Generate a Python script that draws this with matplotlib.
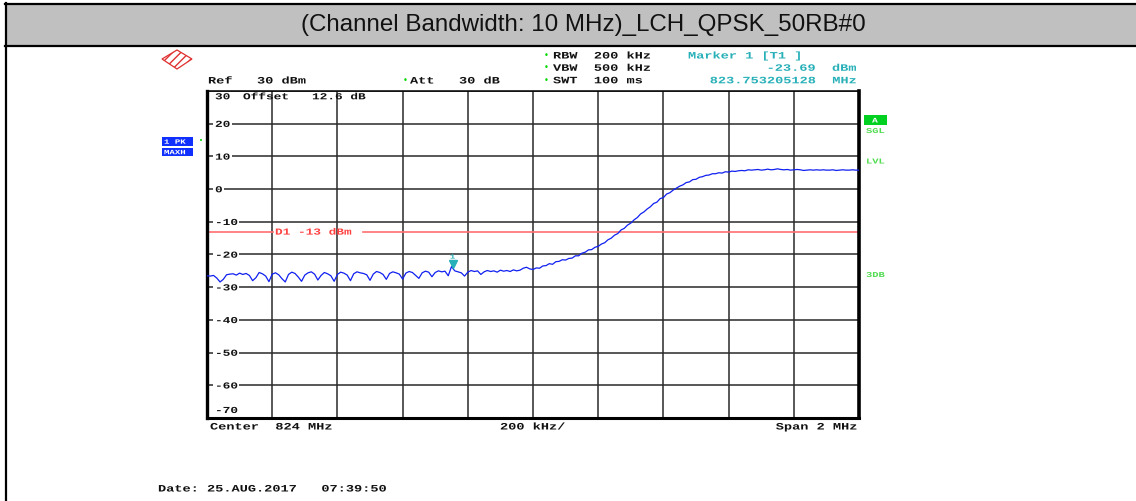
import matplotlib
matplotlib.use("Agg")
import matplotlib.pyplot as plt
import numpy as np
from matplotlib.patches import Rectangle, Polygon
from matplotlib.lines import Line2D
from matplotlib.patheffects import AbstractPathEffect
from matplotlib.transforms import Affine2D, blended_transform_factory, offset_copy

# ---------------- data ----------------
title = "(Channel Bandwidth: 10 MHz)_LCH_QPSK_50RB#0"
center_mhz = 824.0
span_mhz = 2.0
step_mhz = 0.01

trace_dbm = [
    # 823.00 .. 823.99 MHz
    -26.5, -26.6, -26.4, -27.2, -28.4, -27.6, -26.2, -26.0, -25.9, -26.3,
    -25.7, -26.1, -25.8, -26.4, -28.0, -27.1, -25.5, -25.9, -26.6, -28.3,
    -26.0, -25.6, -26.2, -27.4, -28.4, -26.1, -25.4, -25.8, -26.9, -28.2,
    -26.3, -25.6, -25.3, -26.0, -27.8, -26.4, -25.5, -25.9, -26.5, -28.2,
    -26.1, -25.4, -25.7, -26.3, -28.0, -25.9, -25.3, -25.6, -25.8, -26.2,
    -27.9, -26.0, -25.2, -25.5, -26.1, -27.6, -25.8, -25.3, -25.6, -26.0,
    -27.5, -25.7, -25.2, -25.5, -26.4, -27.3, -25.6, -25.1, -25.4, -26.8,
    -25.5, -25.0, -25.3, -25.1, -26.5, -23.7, -25.0, -25.3, -25.6, -26.6,
    -25.4, -24.9, -25.2, -25.0, -26.1, -25.3, -24.9, -25.2, -25.0, -25.4,
    -24.8, -25.1, -24.9, -25.2, -24.7, -25.0, -24.8, -24.2, -23.9, -24.4,
    # 824.00 .. 824.65 MHz
    -24.6, -24.1, -24.2, -23.5, -23.4, -22.8, -23.0, -22.2, -22.1, -21.6,
    -21.7, -21.2, -21.1, -20.4, -20.4, -19.6, -19.3, -18.6, -18.5, -17.8,
    -17.5, -16.8, -16.4, -15.5, -15.0, -14.1, -13.6, -12.5, -12.0, -11.0,
    -10.4, -9.4, -8.7, -7.6, -7.0, -6.1, -5.4, -4.4, -4.0, -2.9,
    -2.6, -1.5, -1.1, -0.3, 0.3, 0.9, 1.3, 2.0, 2.2, 2.9,
    3.0, 3.6, 3.8, 4.2, 4.3, 4.7, 4.7, 5.0, 4.9, 5.3,
    5.2, 5.5, 5.4, 5.6, 5.7, 5.6,
    # 824.66 .. 825.00 MHz
    5.9, 5.8, 5.9, 6.0, 5.8, 5.9, 6.1, 5.9, 6.0, 6.2,
    6.0, 5.9, 6.0, 5.8, 5.9, 6.0, 5.9, 5.7, 5.8, 5.9,
    5.8, 5.9, 5.8, 5.9, 5.8, 5.8, 5.9, 5.7, 5.8, 5.9,
    5.8, 5.8, 5.9, 5.8, 5.8,
]

limit_dbm = -13.0
marker_mhz = 823.753205128
marker_dbm = -23.69

ref_level = 30
y_ticks = [20, 10, 0, -10, -20, -30, -40, -50, -60]
y_bottom_label = -70

# ---------------- figure ----------------
W, H = 1136, 501
fig = plt.figure(figsize=(W / 100, H / 100), dpi=100)
fig.patch.set_facecolor("white")


def fx(x):
    return x / W


def fy(y):
    return 1 - y / H


class Squash(AbstractPathEffect):
    """Draw glyphs vertically compressed about the baseline (wide screen font)."""

    def __init__(self, sy=0.72):
        super().__init__()
        self._sy = sy

    def draw_path(self, renderer, gc, tpath, affine, rgbFace=None):
        renderer.draw_path(gc, tpath, Affine2D().scale(1.0, self._sy) + affine,
                           rgbFace)


MONO = "Liberation Mono"
FS = 9.8
SQ = [Squash(0.72)]
green = "#00D800"
teal = "#28B0B8"
blue = "#1020F0"
red_line = "#FF7070"


def scr(x, yb, s, color="#111111", ha="left", fs=FS, **kw):
    """Screen readout text; yb is the baseline in pixels from the top."""
    return fig.text(fx(x), fy(yb), s, family=MONO, weight="bold", fontsize=fs,
                    color=color, ha=ha, va="baseline", path_effects=SQ, **kw)


# header bar and table frame
fig.patches.append(Rectangle((fx(5), fy(45)), (W - 5) / W, 41 / H,
                             transform=fig.transFigure, facecolor="#C0C0C0",
                             edgecolor="none", zorder=0))
for (x0, y0, x1, y1) in [(4.5, 3.5, W, 3.5), (4.5, 45.5, W, 45.5),
                         (5.5, 3, 5.5, H)]:
    fig.add_artist(Line2D([fx(x0), fx(x1)], [fy(y0), fy(y1)],
                          transform=fig.transFigure, color="black", lw=1.6))
fig.text(fx(583), fy(25), title, family="Liberation Sans", fontsize=17.4,
         ha="center", va="center", color="#111111")

# instrument logo
logo = Polygon([[fx(162), fy(59)], [fx(177), fy(50)], [fx(192), fy(59)],
                [fx(177), fy(69)]], closed=True, transform=fig.transFigure,
               facecolor="none", edgecolor="#E03030", lw=0.9, hatch="////")
fig.patches.append(logo)

# header readouts
scr(208, 83.5, "Ref   30 dBm")
fig.text(fx(403), fy(80.5), "\u2022", color=green, fontsize=6, va="center")
scr(410, 83.5, "Att   30 dB")
for yb, s in [(58.5, "RBW  200 kHz"), (70.8, "VBW  500 kHz"), (83.3, "SWT  100 ms")]:
    fig.text(fx(544), fy(yb - 3), "\u2022", color=green, fontsize=6, va="center")
    scr(553, yb, s)
scr(688, 58.5, "Marker 1 [T1 ]", color=teal)
scr(856, 70.8, f"{marker_dbm:.2f}  dBm", color=teal, ha="right")
scr(856, 83.3, f"{marker_mhz:.9f}  MHz", color=teal, ha="right")

# left trace badges
for (y0, y1, s) in [(137, 145.5, "1 PK"), (147.5, 156, "MAXH")]:
    fig.patches.append(Rectangle((fx(161.5), fy(y1)), 31 / W, (y1 - y0) / H,
                                 transform=fig.transFigure, facecolor="#1030FF",
                                 edgecolor="none"))
    scr(164, y1 - 1.8, s, color="white", fs=6.5)
fig.text(fx(199), fy(141), "\u2022", color=green, fontsize=5, va="center")

# right side indicators
fig.patches.append(Rectangle((fx(864), fy(124.5)), 23 / W, 9.5 / H,
                             transform=fig.transFigure, facecolor="#00D020",
                             edgecolor="none"))
scr(872, 122.5, "A", color="white", fs=7)
for yb, s in [(133, "SGL"), (163.5, "LVL"), (277, "3DB")]:
    scr(866, yb, s, color="#50DC50", fs=7.5)

# footer readouts
scr(210, 429.5, "Center  824 MHz")
scr(500, 429.5, "200 kHz/")
scr(857, 429.5, "Span 2 MHz", ha="right")
scr(158, 491.5, "Date: 25.AUG.2017   07:39:50")

# ---------------- plot area ----------------
ax = fig.add_axes([fx(207), fy(418), 652 / W, 327 / H])
f0 = center_mhz - span_mhz / 2
f1 = center_mhz + span_mhz / 2
freqs = f0 + step_mhz * np.arange(len(trace_dbm))
ax.set_xlim(f0, f1)
ax.set_ylim(-70, ref_level)
ax.set_xticks(np.linspace(f0, f1, 11))
ax.set_yticks(np.arange(-70, ref_level + 1, 10))
ax.tick_params(length=0, labelbottom=False, labelleft=False)
ax.grid(True, color="#2A2A2A", lw=1.1)
ax.set_axisbelow(True)
for side, lw in [("left", 2.4), ("bottom", 2.2), ("right", 2.6), ("top", 1.1)]:
    ax.spines[side].set_linewidth(lw)
    ax.spines[side].set_color("black")

LFS = 9.2
trans_lbl = blended_transform_factory(ax.transAxes, ax.transData)


def ax_lbl(v, s, dy, xa=0.0123, color="#111111", bbox=None, z=3):
    tr = offset_copy(trans_lbl, fig=fig, x=0, y=dy, units="dots")
    ax.text(xa, v, s, transform=tr, family=MONO, weight="bold", fontsize=LFS,
            color=color, va="baseline", ha="left", zorder=z, path_effects=SQ,
            bbox=bbox)


white_box = dict(boxstyle="square,pad=0.12", fc="white", ec="none")
for v in y_ticks:
    ax_lbl(v, f"{v}", -3.2, bbox=white_box)
ax_lbl(y_bottom_label, f"{y_bottom_label}", 5.0)
ax_lbl(ref_level, f"{ref_level}", -8.3)
ax_lbl(ref_level, "Offset   12.6 dB", -8.3, xa=36 / 652)

# display line D1, interrupted where its label sits
ax.axhline(limit_dbm, xmax=66 / 652, color=red_line, lw=1.2, zorder=2)
ax.axhline(limit_dbm, xmin=156 / 652, color=red_line, lw=1.2, zorder=2)
ax_lbl(limit_dbm, f"D1 {limit_dbm:.0f} dBm", -3.0, xa=68 / 652, color="#FF4040")

# trace
ax.plot(freqs, trace_dbm, color=blue, lw=0.9, zorder=4)

# marker 1
mk_tr = offset_copy(ax.transData, fig=fig, x=0, y=3, units="dots")
ax.plot([marker_mhz], [marker_dbm], marker="v", ms=5.5, color=teal,
        transform=mk_tr, zorder=5)
lbl_tr = offset_copy(ax.transData, fig=fig, x=0, y=8, units="dots")
ax.text(marker_mhz, marker_dbm, "1", transform=lbl_tr, color=teal,
        family=MONO, weight="bold", fontsize=6.5, ha="center", va="baseline",
        path_effects=SQ)

fig.savefig("out.png", dpi=100)
